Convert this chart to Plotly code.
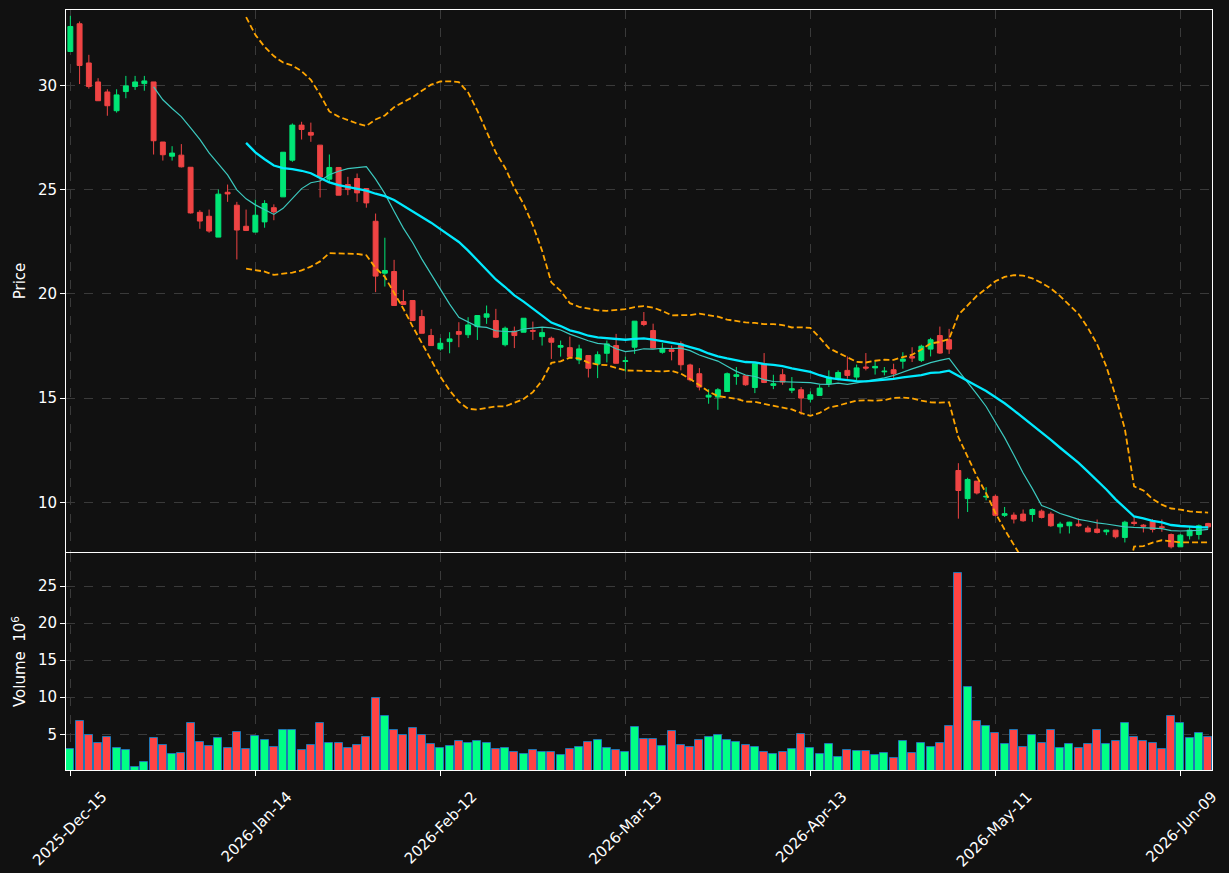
import pandas as pd
import plotly.graph_objects as go
from plotly.subplots import make_subplots

# ---- data (daily bars, index 0 = 2025-12-15) ----
open_ = [31.62, 32.95, 31.07, 30.16, 29.68, 28.78, 29.70, 29.94, 30.08, 30.16,
         27.28, 26.60, 26.65, 26.07, 23.91, 23.72, 22.72, 24.87, 24.25, 23.24,
         22.96, 23.45, 24.13, 24.65, 26.41, 28.09, 27.74, 27.13, 25.50, 26.06,
         25.24, 25.53, 25.05, 23.48, 20.99, 21.07, 19.63, 19.68, 18.91, 18.00,
         17.36, 17.71, 18.19, 18.04, 18.43, 18.88, 18.72, 17.56, 18.21, 18.16,
         18.24, 17.95, 17.87, 17.44, 17.42, 16.83, 17.04, 16.63, 17.15, 17.52,
         16.76, 17.44, 18.67, 18.24, 17.20, 17.32, 17.61, 16.59, 16.17, 15.05,
         15.05, 15.32, 16.04, 16.07, 15.51, 16.65, 15.61, 16.12, 15.38, 15.40,
         14.95, 15.13, 15.69, 15.93, 16.33, 16.01, 16.49, 16.45, 16.26, 16.36,
         16.77, 17.00, 16.81, 17.35, 18.00, 17.80, 11.53, 10.18, 11.02, 10.26,
         10.29, 9.38, 9.39, 9.44, 9.42, 9.58, 9.44, 8.83, 8.88, 8.96,
         8.77, 8.72, 8.59, 8.67, 8.32, 9.05, 8.91, 9.12, 8.83, 8.46,
         7.87, 8.40, 8.46, 8.99]
high = [33.33, 33.06, 31.46, 30.34, 29.81, 29.81, 30.45, 30.45, 30.45, 30.16,
        27.28, 27.08, 27.18, 26.07, 24.01, 24.04, 25.00, 25.24, 24.41, 24.04,
        24.52, 24.49, 24.29, 26.79, 28.17, 28.25, 28.21, 27.13, 26.68, 26.06,
        25.61, 25.77, 25.05, 23.85, 22.69, 21.63, 20.19, 19.68, 19.23, 18.32,
        17.88, 18.16, 18.64, 18.88, 18.96, 19.44, 19.28, 18.43, 18.43, 18.83,
        18.67, 18.37, 17.95, 17.76, 17.95, 17.56, 17.04, 17.24, 17.76, 18.08,
        16.99, 18.69, 19.13, 18.57, 17.64, 17.52, 17.72, 16.65, 16.44, 15.43,
        15.48, 16.23, 16.49, 16.07, 16.65, 17.16, 16.12, 16.39, 16.01, 15.53,
        15.32, 15.64, 16.33, 16.33, 17.00, 16.61, 17.16, 16.77, 16.49, 16.65,
        17.20, 17.44, 17.56, 17.89, 18.43, 18.32, 11.88, 11.18, 11.02, 10.73,
        10.38, 9.78, 9.52, 9.66, 9.71, 9.66, 9.55, 9.07, 9.07, 9.23,
        8.88, 9.18, 8.70, 8.67, 9.12, 9.34, 8.96, 9.20, 9.18, 8.51,
        8.48, 8.83, 8.94, 9.02]
low = [31.60, 30.06, 29.84, 29.26, 28.54, 28.69, 29.38, 29.78, 29.74, 26.68,
       26.39, 26.39, 26.06, 23.85, 23.12, 22.93, 22.72, 24.41, 21.65, 23.01,
       22.96, 23.17, 23.53, 24.65, 26.33, 27.40, 27.29, 24.62, 25.37, 24.73,
       24.73, 24.41, 24.13, 20.08, 20.35, 19.44, 19.49, 18.72, 18.11, 17.52,
       17.28, 17.15, 17.44, 17.88, 17.79, 18.56, 17.88, 17.48, 17.40, 18.16,
       17.79, 17.52, 16.88, 16.99, 16.99, 16.63, 15.99, 15.96, 16.71, 16.67,
       16.28, 17.12, 18.45, 17.40, 17.13, 16.81, 16.33, 15.80, 15.37, 14.73,
       14.44, 15.32, 15.64, 15.59, 15.24, 15.72, 15.43, 15.64, 15.24, 14.20,
       14.79, 15.13, 15.53, 15.85, 15.93, 15.85, 16.33, 16.13, 16.09, 15.97,
       16.41, 16.73, 16.73, 17.00, 17.12, 17.12, 9.22, 9.54, 10.38, 10.10,
       9.33, 9.30, 8.99, 9.07, 9.07, 9.23, 8.83, 8.51, 8.51, 8.83,
       8.56, 8.51, 8.43, 8.27, 8.08, 8.88, 8.56, 8.56, 8.59, 7.79,
       7.87, 8.22, 8.22, 8.75]
close = [32.82, 30.95, 29.94, 29.26, 29.02, 29.54, 29.97, 30.16, 30.21, 27.34,
         26.67, 26.75, 26.09, 23.88, 23.49, 23.01, 24.78, 24.79, 23.06, 23.04,
         23.77, 24.33, 23.93, 26.79, 28.09, 27.88, 27.61, 25.61, 26.06, 24.73,
         25.00, 24.84, 24.36, 20.85, 21.12, 19.44, 19.49, 18.72, 18.11, 17.52,
         17.63, 17.84, 18.06, 18.51, 18.96, 19.04, 17.92, 18.35, 18.00, 18.83,
         18.21, 18.14, 17.68, 17.52, 16.99, 17.36, 16.43, 17.08, 17.60, 16.67,
         16.79, 18.69, 18.53, 17.40, 17.36, 17.24, 16.60, 15.88, 15.53, 15.14,
         15.40, 16.17, 16.12, 15.64, 16.65, 15.75, 15.69, 15.77, 15.45, 15.00,
         15.16, 15.48, 16.01, 16.23, 16.09, 16.45, 16.44, 16.52, 16.29, 16.17,
         16.87, 16.92, 17.49, 17.80, 17.16, 17.35, 10.57, 11.10, 10.45, 10.29,
         9.38, 9.46, 9.20, 9.12, 9.66, 9.28, 8.88, 8.96, 9.05, 8.88,
         8.59, 8.56, 8.67, 8.35, 9.05, 8.99, 8.86, 8.70, 8.80, 7.87,
         8.43, 8.67, 8.88, 8.83]
volume_m = [2.97, 6.76, 4.86, 3.78, 4.59, 3.11, 2.84, 0.63, 1.22, 4.46,
            3.51, 2.30, 2.43, 6.49, 3.92, 3.38, 4.46, 3.11, 5.27, 2.97,
            4.73, 4.19, 3.24, 5.54, 5.54, 2.84, 3.51, 6.49, 3.78, 3.78,
            3.11, 3.51, 4.59, 9.86, 7.43, 5.54, 4.86, 5.81, 4.86, 3.65,
            3.11, 3.38, 4.05, 3.78, 4.05, 3.78, 2.97, 3.11, 2.57, 2.30,
            2.84, 2.57, 2.57, 2.16, 2.97, 3.24, 3.92, 4.19, 3.11, 2.84,
            2.57, 5.95, 4.32, 4.32, 3.38, 5.41, 3.51, 3.24, 4.19, 4.59,
            4.86, 4.19, 3.92, 3.51, 3.24, 2.57, 2.30, 2.57, 2.97, 5.00,
            3.11, 2.30, 3.65, 1.89, 2.84, 2.70, 2.70, 2.16, 2.43, 1.76,
            4.05, 2.43, 3.78, 3.24, 3.78, 6.08, 26.76, 11.35, 6.76, 6.08,
            5.14, 3.65, 5.54, 3.24, 4.86, 3.78, 5.54, 3.11, 3.65, 3.11,
            3.65, 5.54, 3.65, 4.05, 6.49, 4.59, 4.05, 3.78, 2.97, 7.43,
            6.49, 4.46, 5.14, 4.59]
tick_index = [0, 20, 40, 60, 80, 100, 120]
tick_labels = ["2025-Dec-15", "2026-Jan-14", "2026-Feb-12", "2026-Mar-13",
               "2026-Apr-13", "2026-May-11", "2026-Jun-09"]

# ---- indicators (as drawn by the original: MA10, MA20, Bollinger 20/2) ----
s = pd.Series(close)
ma10 = s.rolling(10).mean()
ma20 = s.rolling(20).mean()
sd20 = s.rolling(20).std(ddof=0)
bb_up = ma20 + 2 * sd20
bb_lo = ma20 - 2 * sd20

x = list(range(len(close)))
UP, DOWN = "#00e676", "#ef4444"
VUP, VDOWN = "#00ff85", "#ff4444"
vol_colors = [VUP if c >= o else VDOWN for o, c in zip(open_, close)]

BG = "#111111"
GRID = "#3a3a3a"
FONT = dict(family="DejaVu Sans", size=15, color="white")

fig = make_subplots(rows=2, cols=1, shared_xaxes=True)

fig.add_trace(go.Candlestick(
    x=x, open=open_, high=high, low=low, close=close,
    increasing=dict(fillcolor=UP, line=dict(color=UP, width=1)),
    decreasing=dict(fillcolor=DOWN, line=dict(color=DOWN, width=1)),
    whiskerwidth=0, showlegend=False, hoverinfo="skip"), row=1, col=1)

fig.add_trace(go.Scatter(x=x, y=ma10, mode="lines",
                         line=dict(color="#3cc9bf", width=1.2),
                         showlegend=False, hoverinfo="skip"), row=1, col=1)
fig.add_trace(go.Scatter(x=x, y=ma20, mode="lines",
                         line=dict(color="#00eaff", width=2.3),
                         showlegend=False, hoverinfo="skip"), row=1, col=1)
for band in (bb_up, bb_lo):
    fig.add_trace(go.Scatter(x=x, y=band, mode="lines",
                             line=dict(color="#ffa500", width=1.8, dash="6px,3px"),
                             showlegend=False, hoverinfo="skip"), row=1, col=1)

fig.add_trace(go.Bar(x=x, y=volume_m, marker=dict(color=vol_colors,
                     line=dict(color="#1f77b4", width=1)),
                     width=0.86, showlegend=False, hoverinfo="skip"), row=2, col=1)

axis_common = dict(showline=True, linecolor="white", linewidth=1, mirror=True,
                   showgrid=True, gridcolor=GRID, griddash="dash", gridwidth=1,
                   ticks="outside", tickcolor="white", ticklen=5,
                   tickfont=FONT, zeroline=False, automargin=False)

fig.update_layout(
    width=1229, height=873,
    paper_bgcolor=BG, plot_bgcolor=BG,
    margin=dict(l=66, r=17, t=10, b=103),
    font=FONT, showlegend=False,
    boxgap=0.47, boxgroupgap=0,
    bargap=0,
)
fig.update_xaxes(**axis_common, range=[-0.47, 123.42],
                 tickmode="array", tickvals=tick_index, ticktext=tick_labels)
fig.update_xaxes(rangeslider_visible=False, showticklabels=False,
                 domain=[0, 1], row=1, col=1)
fig.update_xaxes(tickangle=-45, ticklabelshift=32, ticklabelstandoff=6,
                 ticklabeloverflow="allow", row=2, col=1)
fig.update_yaxes(**axis_common)
fig.update_yaxes(domain=[0.2868, 1], range=[7.62, 33.61], dtick=5,
                 title=dict(text="Price", font=FONT, standoff=8), row=1, col=1)
fig.update_yaxes(domain=[0, 0.2855], range=[0.18, 29.46], dtick=5,
                 title=dict(text="Volume  10<sup>6</sup>", font=FONT, standoff=8),
                 row=2, col=1)

fig.write_html("out.html")
